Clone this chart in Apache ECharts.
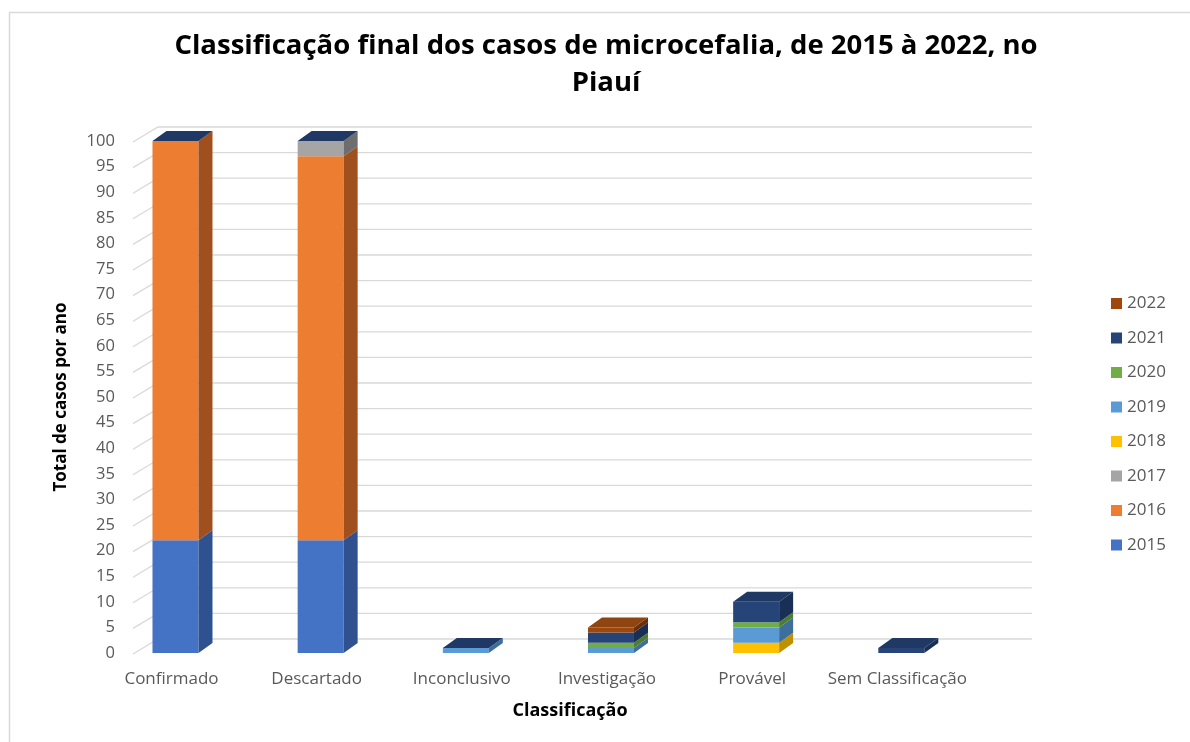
<!DOCTYPE html>
<html>
<head>
<meta charset="utf-8">
<script src="https://cdn.jsdelivr.net/npm/echarts@6/dist/echarts.min.js"></script>
<style>html,body{margin:0;padding:0;background:#fff}#c{width:1190px;height:742px}</style>
</head>
<body>
<div id="c"></div>
<script>
const categories = ['Confirmado', 'Descartado', 'Inconclusivo', 'Investigação', 'Provável', 'Sem Classificação'];
const years = ['2015', '2016', '2017', '2018', '2019', '2020', '2021', '2022'];
const v2015 = [22, 22, 0, 0, 0, 0];
const v2016 = [78, 75, 0, 0, 0, 0];
const v2017 = [0, 3, 0, 0, 0, 0];
const v2018 = [0, 0, 0, 0, 2, 0];
const v2019 = [0, 0, 1, 1, 3, 0];
const v2020 = [0, 0, 0, 1, 1, 0];
const v2021 = [0, 0, 0, 2, 4, 1];
const v2022 = [0, 0, 0, 1, 0, 0];
const yTicks = [0, 5, 10, 15, 20, 25, 30, 35, 40, 45, 50, 55, 60, 65, 70, 75, 80, 85, 90, 95, 100];

const seriesValues = [v2015, v2016, v2017, v2018, v2019, v2020, v2021, v2022];
const frontColors = ['#4472C4', '#ED7D31', '#A5A5A5', '#FFC000', '#5B9BD5', '#70AD47', '#264478', '#9E480E'];
const sideColors = ['#2F5190', '#A0501E', '#6E6E6E', '#BF9000', '#3E6E9B', '#4D7E30', '#1A2F55', '#6B3009'];
const topNavy = '#1F3864';
const topBrown = '#8E4512';

const DX = 14, DY = -10;      // bar depth
const GDX = 25, GDY = -14;    // wall depth
const BAR_L = -19, BAR_R = 27;

function barSeries(k) {
  const data = categories.map((c, i) => {
    let base = 0;
    for (let j = 0; j < k; j++) base += seriesValues[j][i];
    return [i, seriesValues[k][i], base];
  });
  return {
    type: 'custom',
    name: years[k],
    z: 3,
    itemStyle: { color: frontColors[k] },
    data: data,
    encode: { x: 0, y: 1 },
    renderItem: function (params, api) {
      const i = api.value(0), v = api.value(1), b = api.value(2);
      if (!v) return null;
      const pb = api.coord([i, b]);
      const pt = api.coord([i, b + v]);
      const x0 = pb[0] + BAR_L, x1 = pb[0] + BAR_R;
      const yb = pb[1], yt = pt[1];
      return {
        type: 'group',
        children: [
          { type: 'rect', shape: { x: x0, y: yt, width: x1 - x0, height: yb - yt }, style: { fill: frontColors[k] } },
          { type: 'polygon', shape: { points: [[x1, yb], [x1, yt], [x1 + DX, yt + DY], [x1 + DX, yb + DY]] }, style: { fill: sideColors[k] } }
        ]
      };
    }
  };
}

const series = [];
series.push({
  type: 'custom',
  name: 'grid',
  z: 1,
  silent: true,
  data: yTicks.map(t => [0, t]),
  encode: { x: 0, y: 1 },
  renderItem: function (params, api) {
    const p = api.coord([0, api.value(1)]);
    const cs = params.coordSys;
    const xf = 133, y = p[1];
    return {
      type: 'polyline',
      shape: { points: [[xf, y + 1], [xf + GDX, y + GDY], [cs.x + cs.width + 62, y + GDY]] },
      style: { stroke: '#D9D9D9', lineWidth: 1.3, fill: null }
    };
  }
});
for (let k = 0; k < years.length; k++) series.push(barSeries(k));
series.push({
  type: 'custom',
  name: 'tops',
  z: 4,
  silent: true,
  data: categories.map((c, i) => {
    let t = 0;
    for (let j = 0; j < seriesValues.length; j++) t += seriesValues[j][i];
    return [i, t, v2022[i] > 0 ? 1 : 0];
  }),
  encode: { x: 0, y: 1 },
  renderItem: function (params, api) {
    const i = api.value(0), t = api.value(1), brown = api.value(2);
    const p = api.coord([i, t]);
    const x0 = p[0] + BAR_L, x1 = p[0] + BAR_R, y = p[1];
    return {
      type: 'polygon',
      shape: { points: [[x0, y], [x1, y], [x1 + DX, y + DY], [x0 + DX, y + DY]] },
      style: { fill: brown ? topBrown : topNavy }
    };
  }
});

const chart = echarts.init(document.getElementById('c'), null, { renderer: 'canvas' });
chart.setOption({
  animation: false,
  backgroundColor: '#fff',
  textStyle: { fontFamily: 'DejaVu Sans' },
  title: {
    text: 'Classificação final dos casos de microcefalia, de 2015 à 2022, no\nPiauí',
    left: 601,
    textAlign: 'center',
    top: 23,
    textStyle: { fontFamily: 'Open Sans', fontWeight: 'bold', fontSize: 27.5, lineHeight: 37, color: '#000' }
  },
  graphic: [
    { type: 'rect', shape: { x: 9.5, y: 12.5, width: 1190, height: 740 }, style: { fill: null, stroke: '#D9D9D9', lineWidth: 1.5 }, z: -1 },
    { type: 'text', x: 570, y: 711, style: { text: 'Classificação', fontFamily: 'Open Sans', fontWeight: 'bold', fontSize: 18, fill: '#000', align: 'center', verticalAlign: 'middle' } }
  ],
  legend: {
    orient: 'vertical',
    left: 1106,
    top: 290,
    itemWidth: 11,
    itemHeight: 11,
    itemGap: 17.5,
    icon: 'rect',
    data: years.slice().reverse(),
    textStyle: { fontFamily: 'Open Sans', fontSize: 17, color: '#595959', lineHeight: 16 }
  },
  grid: { left: 98.9, width: 871, top: 141, height: 512 },
  xAxis: {
    type: 'category',
    data: categories,
    axisLine: { show: false },
    axisTick: { show: false },
    axisLabel: { interval: 0, margin: 18, fontSize: 17, color: '#595959', fontFamily: 'Open Sans' }
  },
  yAxis: {
    type: 'value',
    min: 0,
    max: 100,
    interval: 5,
    offset: -24,
    splitLine: { show: false },
    axisLine: { show: false },
    axisTick: { show: false },
    axisLabel: { fontSize: 16.5, color: '#595959', fontFamily: 'Open Sans', margin: 8, padding: [5, 0, 0, 0] },
    name: 'Total de casos por ano',
    nameLocation: 'middle',
    nameRotate: 90,
    nameGap: 53,
    nameTextStyle: { fontFamily: 'Open Sans', fontWeight: 'bold', fontSize: 17, color: '#000' }
  },
  series: series
});
</script>
</body>
</html>
